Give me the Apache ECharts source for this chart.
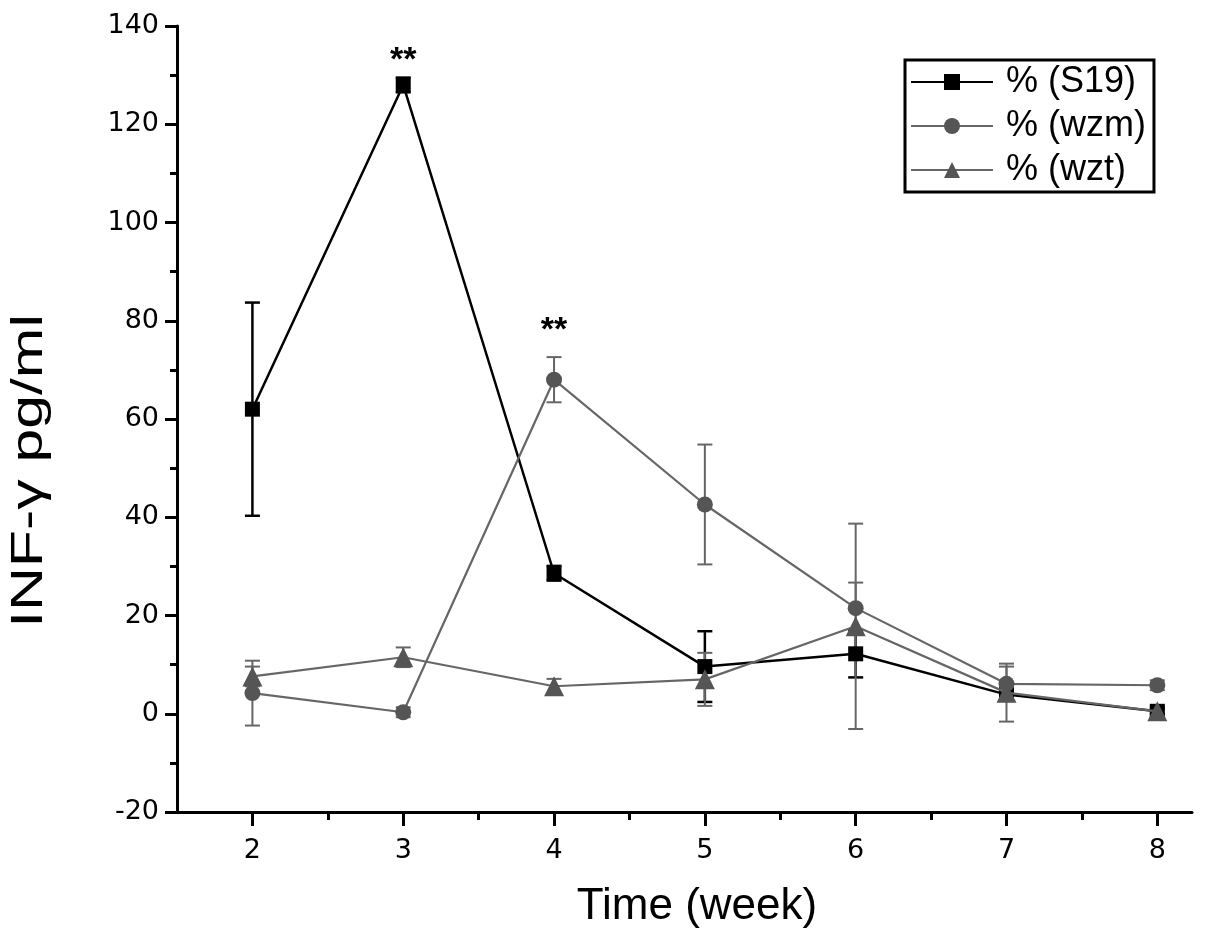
<!DOCTYPE html>
<html>
<head>
<meta charset="utf-8">
<script src="https://cdn.jsdelivr.net/npm/echarts@6/dist/echarts.min.js"></script>
<style>
html,body{margin:0;padding:0;background:#fff;}
#c{width:1205px;height:946px;}
</style>
</head>
<body>
<div id="c"></div>
<script>
// ---- data ----
const weeks = [2, 3, 4, 5, 6, 7, 8];
const s19 = [62.0, 128.0, 28.6, 9.6, 12.2, 3.9, 0.5];
const s19Err = [21.7, 1.5, 1.5, 7.2, 4.8, 1.0, 0.5];
const wzm = [4.2, 0.3, 68.0, 42.6, 21.5, 6.1, 5.8];
const wzmErr = [6.6, 1.0, 4.6, 12.2, 5.2, 3.5, 1.0];
const wzt = [7.6, 11.5, 5.6, 7.0, 17.8, 4.3, 0.5];
const wztErr = [2.0, 2.0, 1.5, 5.4, 20.9, 5.9, 1.0];
const xTicks = [2, 3, 4, 5, 6, 7, 8];
const xMinorTicks = [2.5, 3.5, 4.5, 5.5, 6.5, 7.5];
const seriesNames = ['% (S19)', '% (wzm)', '% (wzt)'];
const sigMarks = [[3, 133], [4, 78]];

const FONT = '"Liberation Sans", Arial, sans-serif';
const TICKFONT = '"DejaVu Sans", sans-serif';
const BLACK = '#000';
const GRAY_LINE = '#666';
const GRAY_MARK = '#555';

function pairs(vals) { return weeks.map((w, i) => [w, vals[i]]); }
function errData(vals, errs) { return weeks.map((w, i) => [w, vals[i] - errs[i], vals[i] + errs[i]]); }

function errSeries(vals, errs, color, lw) {
  return {
    type: 'custom',
    silent: true,
    z: 1,
    data: errData(vals, errs),
    renderItem: function (params, api) {
      const x = api.value(0);
      const lo = api.coord([x, api.value(1)]);
      const hi = api.coord([x, api.value(2)]);
      const hw = 7.5;
      const st = { stroke: color, lineWidth: lw };
      return {
        type: 'group',
        children: [
          { type: 'line', shape: { x1: lo[0], y1: lo[1], x2: hi[0], y2: hi[1] }, style: st },
          { type: 'line', shape: { x1: lo[0] - hw, y1: lo[1], x2: lo[0] + hw, y2: lo[1] }, style: st },
          { type: 'line', shape: { x1: hi[0] - hw, y1: hi[1], x2: hi[0] + hw, y2: hi[1] }, style: st }
        ]
      };
    }
  };
}

const chart = echarts.init(document.getElementById('c'), null, { renderer: 'canvas' });
chart.setOption({
  animation: false,
  backgroundColor: '#fff',
  grid: { left: 177, right: 13, top: 26, bottom: 134, containLabel: false },
  legend: {
    orient: 'vertical',
    left: 905,
    top: 60,
    data: seriesNames,
    borderColor: BLACK,
    borderWidth: 3,
    padding: [4, 8, 4, 5],
    itemWidth: 82,
    itemHeight: 20,
    itemGap: 8,
    textStyle: { fontFamily: FONT, fontSize: 36, color: BLACK, padding: [0, 0, 0, 8], lineHeight: 36 }
  },
  xAxis: [{
    type: 'value',
    min: 1.5,
    max: 8.23,
    axisLine: { show: true, onZero: false, lineStyle: { color: BLACK, width: 3 } },
    axisTick: { show: true, length: 14, lineStyle: { color: BLACK, width: 3 }, customValues: xTicks },
    axisLabel: { show: true, customValues: xTicks, fontFamily: TICKFONT, fontSize: 27, color: BLACK, margin: 25 },
    splitLine: { show: false }
  }, {
    type: 'value',
    min: 1.5,
    max: 8.23,
    position: 'bottom',
    axisLine: { show: false, onZero: false },
    axisTick: { show: true, length: 8, lineStyle: { color: BLACK, width: 3 }, customValues: xMinorTicks },
    axisLabel: { show: false },
    splitLine: { show: false }
  }],
  yAxis: {
    type: 'value',
    min: -20,
    max: 140,
    interval: 20,
    axisLine: { show: true, onZero: false, lineStyle: { color: BLACK, width: 3 } },
    axisTick: { show: true, length: 12, lineStyle: { color: BLACK, width: 3 } },
    minorTick: { show: true, splitNumber: 2, length: 7, lineStyle: { color: BLACK, width: 3 } },
    axisLabel: { fontFamily: TICKFONT, fontSize: 27, color: BLACK, margin: 18 },
    splitLine: { show: false }
  },
  graphic: [
    { type: 'text', x: 697, y: 907, style: { text: 'Time (week)', font: '44px ' + FONT, fill: BLACK, textAlign: 'center', textVerticalAlign: 'middle' } },
    { type: 'text', x: 30, y: 471, rotation: Math.PI / 2, scaleX: 1.38, style: { text: 'INF-\u03b3 pg/ml', font: '44px ' + FONT, fill: BLACK, textAlign: 'center', textVerticalAlign: 'middle' } }
  ],
  series: [
    errSeries(s19, s19Err, BLACK, 2.5),
    errSeries(wzm, wzmErr, GRAY_LINE, 2),
    errSeries(wzt, wztErr, GRAY_LINE, 2),
    {
      name: seriesNames[0], type: 'line', z: 3, data: pairs(s19),
      symbol: 'rect', symbolSize: 15,
      lineStyle: { color: BLACK, width: 2.5 },
      itemStyle: { color: BLACK },
      markPoint: {
        symbol: 'circle', symbolSize: 1, itemStyle: { color: 'rgba(0,0,0,0)' },
        label: { show: true, formatter: '**', fontFamily: FONT, fontWeight: 'bold', fontSize: 34, color: BLACK, position: 'inside' },
        data: sigMarks.map(p => ({ coord: p }))
      }
    },
    {
      name: seriesNames[1], type: 'line', z: 4, data: pairs(wzm),
      symbol: 'circle', symbolSize: 16,
      lineStyle: { color: GRAY_LINE, width: 2.2 },
      itemStyle: { color: GRAY_MARK }
    },
    {
      name: seriesNames[2], type: 'line', z: 5, data: pairs(wzt),
      symbol: 'triangle', symbolSize: 20,
      lineStyle: { color: GRAY_LINE, width: 2.2 },
      itemStyle: { color: GRAY_MARK }
    }
  ]
});
</script>
</body>
</html>
